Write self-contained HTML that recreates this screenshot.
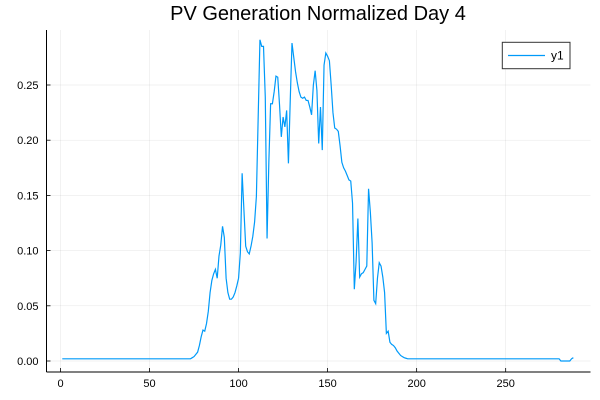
<!DOCTYPE html>
<html><head><meta charset="utf-8"><style>
body{margin:0;background:#fff;}
svg{display:block;font-family:"Liberation Sans","DejaVu Sans",sans-serif;}
</style></head><body>
<svg id="chart" width="600" height="400" xmlns="http://www.w3.org/2000/svg">
<rect x="0" y="0" width="600" height="400" fill="#fff"/>
<text x="318" y="20" font-size="20" text-anchor="middle" fill="#000">PV Generation Normalized Day 4</text>
<g id="grid"></g>
<g id="axes"></g>
<path id="series" fill="none" stroke="#009af9" stroke-width="1.2"/>
<g>
<rect x="502.3" y="42.3" width="67.7" height="26.4" fill="#fff" stroke="#333" stroke-width="1"/>
<line x1="508" y1="55.5" x2="545" y2="55.5" stroke="#009af9" stroke-width="1.2"/>
<text x="551" y="59.5" font-size="12" fill="#000">y1</text>
</g>
</svg>
<script>
const xTicks=[0,50,100,150,200,250];
const yTicks=[0,0.05,0.10,0.15,0.20,0.25];
const yTickLabels=["0.00","0.05","0.10","0.15","0.20","0.25"];
const dayValues=[.002,.003,.004,.006,.008,.014,.022,.028,.027,.034,.045,.062,.073,.079,.083,.075,.095,.105,.122,.112,.075,.062,.056,.056,.058,.062,.068,.075,.098,.170,.137,.104,.099,.097,.104,.113,.126,.149,.220,.291,.285,.285,.239,.111,.180,.233,.233,.244,.258,.257,.232,.203,.221,.212,.227,.179,.235,.288,.275,.262,.252,.244,.239,.238,.239,.236,.236,.230,.223,.250,.263,.245,.197,.230,.191,.268,.279,.276,.272,.250,.225,.211,.210,.208,.195,.180,.175,.172,.168,.164,.163,.143,.065,.090,.129,.076,.079,.080,.083,.086,.156,.135,.107,.055,.052,.075,.089,.086,.076,.062,.025,.027,.017,.015,.014,.012,.009,.007,.005,.004,.003,.0025];
const tailValues=[.002,0,0,0,0,0,0,.002,.003];
const values=[];
for(let i=0;i<72;i++)values.push(.002);
dayValues.forEach(v=>values.push(v));
while(values.length<279)values.push(.002);
tailValues.forEach(v=>values.push(v));

const X0=46.5,X1=590.5,Y0=372,Y1=30;
const xs=v=>60.5+v*1.7807;
const ys=v=>361-v*1104;
const ns="http://www.w3.org/2000/svg";
const grid=document.getElementById('grid'),axes=document.getElementById('axes');
function mk(tag,attrs,parent){const e=document.createElementNS(ns,tag);for(const k in attrs)e.setAttribute(k,attrs[k]);parent.appendChild(e);return e;}
xTicks.forEach(t=>{
 const g=mk('line',{x1:xs(t),x2:xs(t),y1:Y1,y2:Y0,stroke:'#000','stroke-opacity':0.1,'stroke-width':0.5},grid);
 
 
 const tk=mk('line',{x1:xs(t),x2:xs(t),y1:Y0,y2:Y0-4,stroke:'#000','stroke-width':0.8},axes);
 
 
 const tx=mk('text',{x:xs(t),y:Y0+15,'font-size':11,'text-anchor':'middle',fill:'#000'},axes);
 tx.textContent=t;
 
 
});
yTicks.forEach((t,i)=>{
 const g=mk('line',{x1:X0,x2:X1,y1:ys(t),y2:ys(t),stroke:'#000','stroke-opacity':0.1,'stroke-width':0.5},grid);
 
 
 const tk=mk('line',{x1:X0,x2:X0+4,y1:ys(t),y2:ys(t),stroke:'#000','stroke-width':0.8},axes);
 
 
 const tx=mk('text',{x:X0-8,y:ys(t)+4,'font-size':11,'text-anchor':'end',fill:'#000'},axes);
 tx.textContent=yTickLabels[i];
 
 
});
const ax=mk('line',{x1:X0,x2:X1,y1:Y0,y2:Y0,stroke:'#000','stroke-width':1},axes);


const ay=mk('line',{x1:X0,x2:X0,y1:Y1,y2:Y0,stroke:'#000','stroke-width':1},axes);


document.getElementById('series').setAttribute('d',values.map((v,i)=>(i?'L':'M')+xs(i+1).toFixed(2)+','+ys(v).toFixed(2)).join(''));
</script>
</body></html>
